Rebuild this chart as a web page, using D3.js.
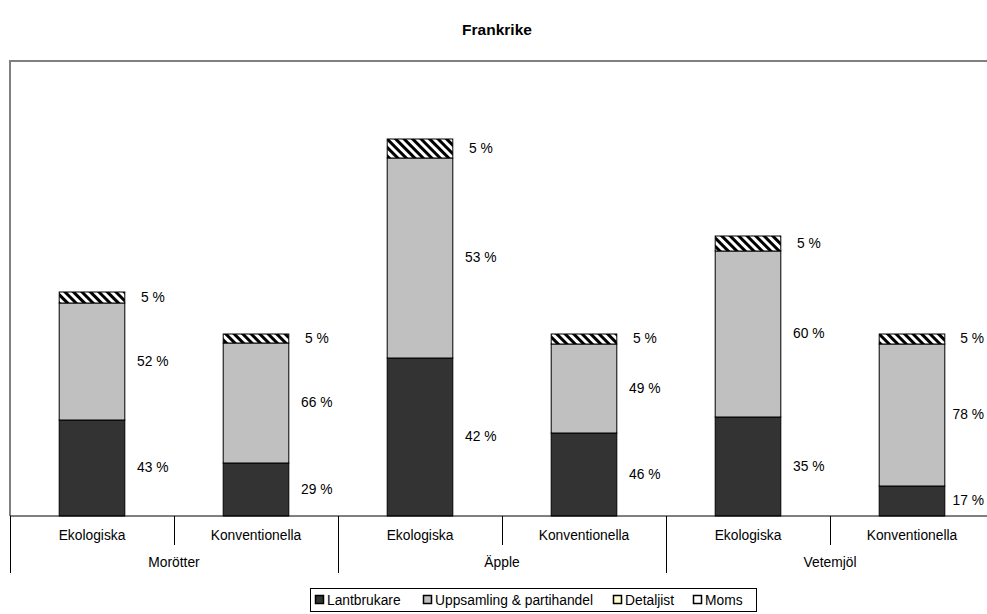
<!DOCTYPE html>
<html><head><meta charset="utf-8">
<script src="https://cdn.jsdelivr.net/npm/d3@7"></script>
<style>
html,body{margin:0;padding:0;background:#fff;}
svg{display:block;font-family:"Liberation Sans",Arial,sans-serif;}
</style></head>
<body>
<svg id="chart" width="987" height="614"></svg>
<script>
const title = "Frankrike";
const groups = ["Morötter", "Äpple", "Vetemjöl"];
const subCats = ["Ekologiska", "Konventionella"];
const seriesNames = ["Lantbrukare", "Uppsamling & partihandel", "Detaljist", "Moms"];
// bar heights (relative units), order: Morötter Eko, Morötter Konv, Äpple Eko, Äpple Konv, Vetemjöl Eko, Vetemjöl Konv
const lantbrukare = [9.6, 5.3, 15.8, 8.3, 9.9, 3.0];
const uppsamling = [11.7, 12.0, 20.0, 8.9, 16.6, 14.2];
const detaljist = [0, 0, 0, 0, 0, 0];
const moms = [1.1, 0.9, 1.9, 1.0, 1.5, 1.0];
const labelsLant = ["43 %", "29 %", "42 %", "46 %", "35 %", "17 %"];
const labelsUpp = ["52 %", "66 %", "53 %", "49 %", "60 %", "78 %"];
const labelsMoms = ["5 %", "5 %", "5 %", "5 %", "5 %", "5 %"];

(function () {
const svg = d3.select("#chart");
const W = 987;
const pLeft = 10, pRight = 994, pTop = 61, pBottom = 516;
const fs = 13.8;

const defs = svg.append("defs");
const pat = defs.append("pattern").attr("id", "stripes").attr("patternUnits", "userSpaceOnUse")
  .attr("width", 6).attr("height", 6).attr("patternTransform", "rotate(-45)");
pat.append("rect").attr("width", 6).attr("height", 6).attr("fill", "#fff");
pat.append("rect").attr("width", 3).attr("height", 6).attr("fill", "#000");

const colors = ["#333333", "#c0c0c0", "#ffffcc", "url(#stripes)"];

const keys = [];
groups.forEach(g => subCats.forEach(s => keys.push(g + "|" + s)));
const x = d3.scaleBand().domain(keys).range([pLeft, pRight]).paddingInner(0).paddingOuter(0);
const y = d3.scaleLinear().domain([0, 45.5]).range([pBottom, pTop]);
const barW = x.bandwidth() * 0.4;

// title
svg.append("text").attr("x", 497).attr("y", 35).attr("text-anchor", "middle")
  .attr("font-size", 15.5).attr("font-weight", "bold").text(title);

// plot border (top/left visible)
svg.append("path").attr("d", `M${pLeft},${pBottom} V${pTop} H${pRight}`)
  .attr("fill", "none").attr("stroke", "#808080").attr("stroke-width", 2);

const rows = keys.map((k, i) => ({ key: k, vals: [lantbrukare[i], uppsamling[i], detaljist[i], moms[i]] }));
const stackData = rows.map(r => { const o = { key: r.key }; seriesNames.forEach((s, j) => o[s] = r.vals[j]); return o; });
const stack = d3.stack().keys(seriesNames)(stackData);

const layers = svg.append("g").selectAll("g").data(stack).join("g")
  .attr("fill", (d, i) => colors[i]);
layers.selectAll("rect").data(d => d.filter(p => p[1] - p[0] > 0)).join("rect")
  .attr("x", d => x(d.data.key) + (x.bandwidth() - barW) / 2)
  .attr("width", barW)
  .attr("y", d => y(d[1]))
  .attr("height", d => y(d[0]) - y(d[1]))
  .attr("stroke", "#000").attr("stroke-width", 1);

// data labels (centred right of the bar, kept inside the visible area)
const labelSets = [[0, labelsLant], [1, labelsUpp], [3, labelsMoms]];
labelSets.forEach(([si, labs]) => {
  svg.append("g").selectAll("text").data(stack[si]).join("text")
    .attr("text-anchor", "middle")
    .attr("y", d => (y(d[0]) + y(d[1])) / 2 + 4)
    .attr("font-size", fs).attr("fill", "#000")
    .text((d, i) => labs[i])
    .attr("x", function (d) {
      const w = this.getComputedTextLength();
      const cx = x(d.data.key) + (x.bandwidth() + barW) / 2 + 28;
      return Math.min(cx, W - 3 - w / 2);
    });
});

// category axis
svg.append("line").attr("x1", pLeft).attr("x2", pRight).attr("y1", pBottom).attr("y2", pBottom)
  .attr("stroke", "#000").attr("stroke-width", 1);
const axisG = svg.append("g");
keys.forEach((k, i) => {
  const x0 = x(k);
  const isGroupStart = i % subCats.length === 0;
  axisG.append("line").attr("x1", x0 + 0.5).attr("x2", x0 + 0.5).attr("y1", pBottom)
    .attr("y2", isGroupStart ? 573 : 545).attr("stroke", "#000");
  axisG.append("text").attr("x", x0 + x.bandwidth() / 2).attr("y", 540)
    .attr("text-anchor", "middle").attr("font-size", fs).text(k.split("|")[1]);
});
groups.forEach((g, gi) => {
  const x0 = x(g + "|" + subCats[0]);
  const x1 = x(g + "|" + subCats[subCats.length - 1]) + x.bandwidth();
  axisG.append("text").attr("x", (x0 + x1) / 2).attr("y", 567)
    .attr("text-anchor", "middle").attr("font-size", fs).text(g);
});

// legend
const lg = svg.append("g");
lg.append("rect").attr("x", 310.5).attr("y", 588.5).attr("width", 446).attr("height", 23)
  .attr("fill", "#fff").attr("stroke", "#000");
const legX = [315, 423, 613, 693];
seriesNames.forEach((s, i) => {
  lg.append("rect").attr("x", legX[i] + 0.5).attr("y", 595.5).attr("width", 8).attr("height", 8)
    .attr("fill", i === 3 ? "#fff" : colors[i]).attr("stroke", "#000").attr("stroke-width", 1.5);
  lg.append("text").attr("x", legX[i] + 12).attr("y", 604.5).attr("font-size", fs).text(s);
});
})();
</script>
</body></html>
